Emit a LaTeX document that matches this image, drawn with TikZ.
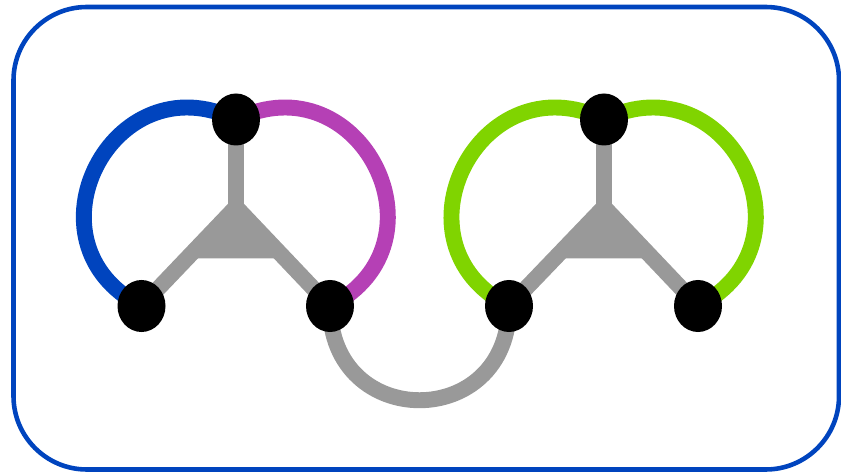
\documentclass[tikz,border=0pt]{standalone}
\usepackage{tikz}
\usetikzlibrary{shapes.geometric}
\usetikzlibrary{positioning}
\usetikzlibrary{calc}
\definecolor{frameblue}{RGB}{0,68,190}
\definecolor{edgeblue}{RGB}{0,68,190}
\definecolor{edgepurple}{RGB}{181,64,181}
\definecolor{edgegreen}{RGB}{128,212,0}
\definecolor{edgegray}{RGB}{153,153,153}
\pgfdeclarelayer{background}
\pgfsetlayers{background,main}

\begin{document}
\begin{tikzpicture}[x=0.03cm, y=0.03cm,
  vertex/.style={ellipse, fill=black, inner sep=0pt, minimum width=1.44cm, minimum height=1.56cm},
  link/.style={line width=13.6pt},
  loop arc/.style={link, looseness=1.69}]
\useasboundingbox (0,0) rectangle (841,472);
\draw[frameblue, line width=3.9pt, rounded corners=2.2cm] (13.5,2.5) rectangle (839,465);

% vertices
\node[vertex] (TopA) at (236,352.5) {};
\node[vertex] (LeftA) at (141.5,166) {};
\node[vertex] (RightA) at (330,166) {};
\node[vertex] (TopB) at (604,352.5) {};
\node[vertex] (LeftB) at (509,166) {};
\node[vertex] (RightB) at (698,166) {};
\coordinate (HubA) at (236,265);
\coordinate (HubB) at (604,265);

\begin{pgfonlayer}{background}
% loops round each hub
\draw[loop arc, edgeblue] (LeftA.center) to[out=153, in=154] (TopA.center);
\draw[loop arc, edgepurple] (TopA.center) to[out=26, in=27] (RightA.center);
\draw[loop arc, edgegreen] (LeftB.center) to[out=153, in=154] (TopB.center);
\draw[loop arc, edgegreen] (TopB.center) to[out=26, in=27] (RightB.center);

% three-way edges
\foreach \hub/\top/\left/\right in {HubA/TopA/LeftA/RightA, HubB/TopB/LeftB/RightB} {
  \fill[edgegray] (\hub) -- ($(\hub)!0.52!(\left.center)$) -- ($(\hub)!0.52!(\right.center)$) -- cycle;
  \draw[link, edgegray] (\top.center) -- (\hub) -- (\left.center);
  \draw[link, edgegray] (\hub) -- (\right.center);
}

% bridge between the two parts
\draw[link, edgegray, looseness=1.8] (RightA.center) to[out=-90, in=-90] (LeftB.center);
\end{pgfonlayer}
\end{tikzpicture}
\end{document}
